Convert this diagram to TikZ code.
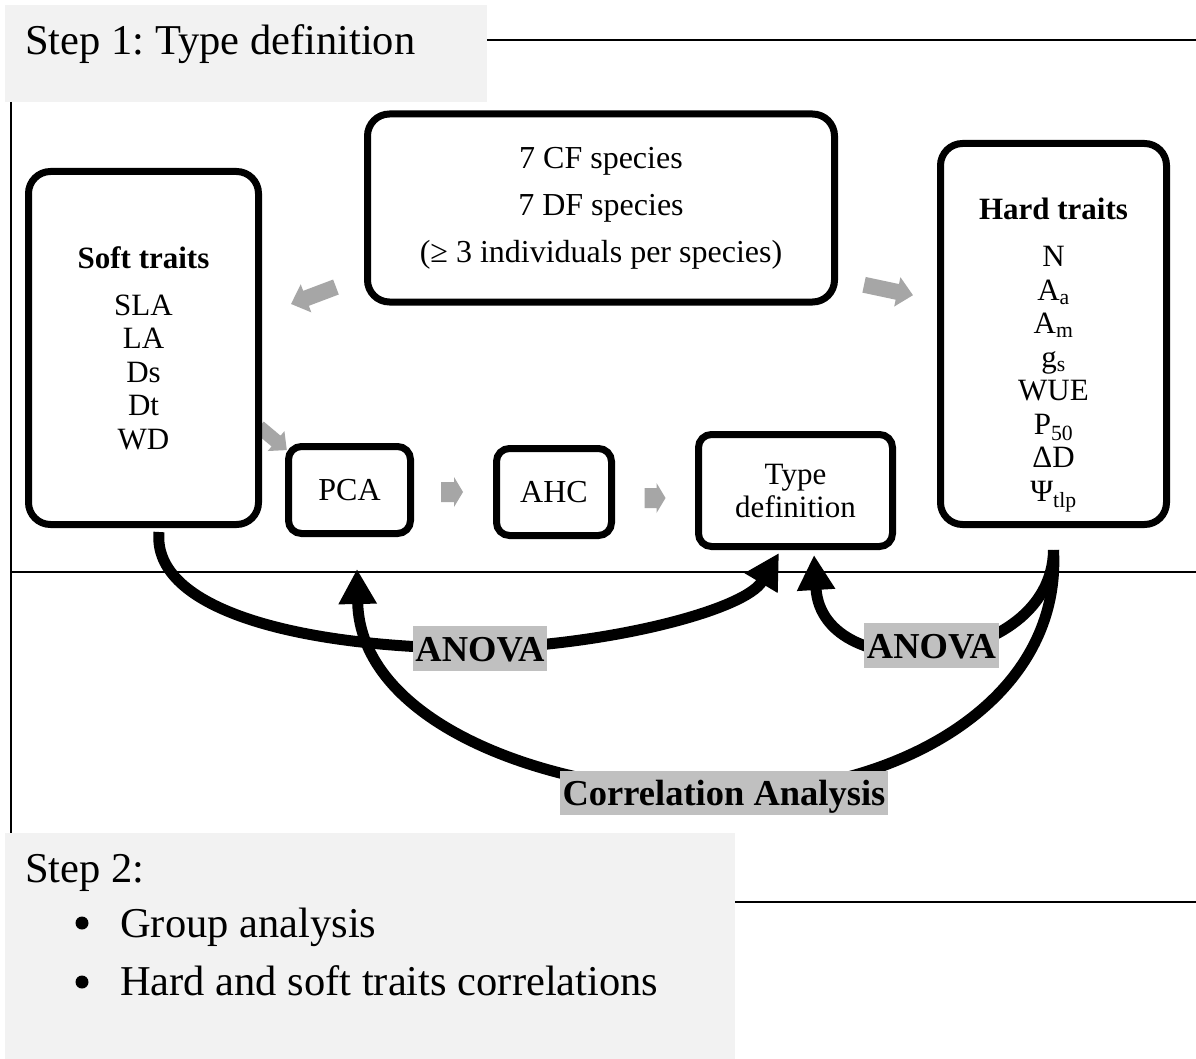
\documentclass[tikz,border=0pt]{standalone}
\usepackage{fontspec}
\setmainfont{Liberation Serif}
\usetikzlibrary{arrows.meta,calc,shadows}
\definecolor{stepgray}{HTML}{F2F2F2}
\definecolor{labgray}{HTML}{C0C0C0}
\definecolor{arrgray}{HTML}{A6A6A6}
\frenchspacing
% centre x, centre y, angle, length, shaft half width, head half width, head length
\newcommand\GrayArw[7]{%
  \fill[arrgray, shift={(#1,#2)}, rotate=#3]
    (-#4/2,-#5) -- (#4/2-#7,-#5) -- (#4/2-#7,-#6) -- (#4/2,0)
    -- (#4/2-#7,#6) -- (#4/2-#7,#5) -- (-#4/2,#5) -- cycle;}
\tikzset{
  bigbox/.style={draw=black, line width=7pt, fill=white, rounded corners=22pt,
    drop shadow={shadow xshift=2pt, shadow yshift=-3pt, opacity=0.22}},
  smallbox/.style={bigbox, rounded corners=13pt},
  flowline/.style={line width=11pt, draw=black},
  flowarrow/.style={flowline, -{Triangle[length=35pt,width=36pt]}},
  statlabel/.style={fill=labgray, inner xsep=2.5pt, inner ysep=0pt,
    text height=35pt, text depth=9.5pt,
    font=\fontsize{36.5}{40}\selectfont\bfseries},
  steptext/.style={anchor=base west, inner sep=0pt, font=\fontsize{42.5}{50}\selectfont},
  bulletdot/.style={circle, fill=black, inner sep=0pt, minimum size=13pt},
  rule/.style={line width=2.5pt, draw=black}
}
\begin{document}
\begin{tikzpicture}[x=1pt,y=-1pt]
\useasboundingbox (0,0) rectangle (1196,1059);
\fill[white] (0,0) rectangle (1196,1059);

% step panels
\fill[stepgray] (5,5) rectangle (487,102);
\fill[stepgray] (5,833) rectangle (735,1059);
\node[steptext] (step1) at (25,55) {Step 1: Type definition};
\node[steptext] (step2) at (25,882) {Step 2:};
\node[bulletdot] (bul1) at (82,923) {};
\node[steptext] (item1) at (120,937) {Group analysis};
\node[bulletdot] (bul2) at (82,982) {};
\node[steptext] (item2) at (120,995) {Hard and soft traits correlations};

% frame rules
\draw[rule] (487,40) -- (1196,40);
\draw[rule] (11,102) -- (11,833);
\draw[rule] (11,572) -- (1196,572);
\draw[rule] (735,902) -- (1196,902);

% gray block arrows
\GrayArw{273}{438.5}{-40}{36}{7}{13}{14}
\GrayArw{313.5}{295.5}{200.7}{48}{8}{15}{16}
\GrayArw{888.5}{290}{-12}{50}{8}{15}{16}
\GrayArw{452}{492}{0}{22}{10}{15}{9}
\GrayArw{655}{498}{0}{21}{10}{15}{9}

% boxes
\node[bigbox, minimum width=230pt, minimum height=353pt, inner sep=0pt,
      align=center, font=\fontsize{31}{33.5}\selectfont] (soft) at (143.5,348)
  {\textbf{Soft traits}\\[13.5pt] SLA\\ LA\\ Ds\\ Dt\\ WD};
\node[bigbox, minimum width=467pt, minimum height=188pt, inner sep=0pt,
      align=center, font=\fontsize{32}{47}\selectfont] (species) at (601,208)
  {7 CF species\\ 7 DF species\\ (≥ 3 individuals per species)};
\node[bigbox, minimum width=226pt, minimum height=381pt] (hard) at (1053.5,334) {};
\node[inner sep=0pt, align=center, font=\fontsize{31}{33.5}\selectfont] (hardtxt) at (1053.5,355.5)
  {\textbf{Hard traits}\\[13.5pt] N\\ A\textsubscript{a}\\ A\textsubscript{m}\\ g\textsubscript{s}\\ WUE\\
   P\textsubscript{50}\\ ΔD\\ Ψ\textsubscript{tlp}};
\node[smallbox, minimum width=122pt, minimum height=87pt, inner sep=0pt,
      font=\fontsize{32}{36}\selectfont] (pca) at (349.5,490) {PCA};
\node[smallbox, minimum width=115pt, minimum height=87pt, inner sep=0pt,
      font=\fontsize{32}{36}\selectfont] (ahc) at (554,492) {AHC};
\node[smallbox, minimum width=194pt, minimum height=112pt, inner sep=0pt,
      align=center, font=\fontsize{31}{33}\selectfont] (typedef) at (795.5,490.5)
  {Type\\ definition};

% label positions
\coordinate (a1) at (480,648.5);
\coordinate (a2) at (931.5,645.5);
\coordinate (cr) at (724,793);

% curved black connectors
\draw[flowarrow] ($(soft.south)+(15.5,4)$) .. controls (152,610) and (300,648) .. (a1)
  .. controls (610,645) and (745,610) .. ($(typedef.south)+(-16.5,3)$);
\draw[flowarrow] ($(hard.south)+(0,22)$) .. controls (1052,670) and (822,690) .. ($(typedef.south)+(18.5,5)$);
\draw[flowarrow] ($(hard.south)+(0,22)$) .. controls (1062,700) and (900,793) .. (cr)
  .. controls (540,793) and (360,720) .. ($(pca.south)+(7.5,32)$);

% statistic labels
\node[statlabel] (anova1) at (a1) {ANOVA};
\node[statlabel] (anova2) at (a2) {ANOVA};
\node[statlabel] (corr) at (cr) {Correlation Analysis};
\end{tikzpicture}
\end{document}
